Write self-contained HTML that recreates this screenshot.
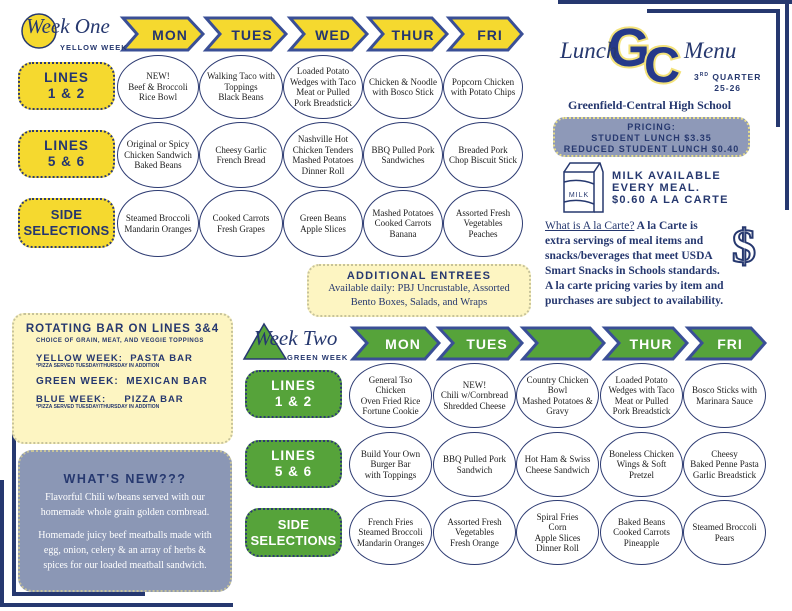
<!DOCTYPE html>
<html><head><meta charset="utf-8"><style>
body{margin:0;background:#fff}
#c{position:relative;width:792px;height:611px;overflow:hidden;background:#fff;font-family:"Liberation Sans",sans-serif}
.a{position:absolute}
.o{position:absolute;box-sizing:border-box;border:1px solid #2d3b72;border-radius:50%;display:flex;align-items:center;justify-content:center;text-align:center;font:9px/10.5px "Liberation Serif",serif;color:#1d1d1d;background:#fff;padding:0 5px}
.p{position:absolute;box-sizing:border-box;border:2px dotted #2d3b72;border-radius:14px;display:flex;align-items:center;justify-content:center;text-align:center;font-weight:bold;font-size:13.5px;line-height:16px;letter-spacing:1px}
.p.sd{font-size:13px;letter-spacing:0.3px}
.y{background:#f5d92f;color:#25366f}
.g{background:#56a33a;color:#fff}
.s{font-family:"Liberation Serif",serif}
</style></head><body><div id="c">
<svg class="a" style="left:0;top:0" width="792" height="611">
<rect x="558" y="0" width="234" height="4" fill="#26386f"/>
<rect x="647" y="9" width="133" height="4" fill="#26386f"/>
<rect x="776" y="9" width="4" height="118" fill="#26386f"/>
<rect x="785" y="0" width="4" height="210" fill="#26386f"/>
<rect x="12" y="398" width="4" height="198" fill="#26386f"/>
<rect x="12" y="592" width="133" height="4" fill="#26386f"/>
<rect x="0" y="480" width="4" height="127" fill="#26386f"/>
<rect x="0" y="603" width="233" height="4" fill="#26386f"/>
<circle cx="39" cy="31" r="17" fill="#f5d92f" stroke="#26386f" stroke-width="1.5"/>
<g fill="#f5d92f" stroke="#3a4f96" stroke-width="3" stroke-linejoin="miter">
<polygon points="123,18 188,18 203,34 188,50 123,50 137,34"/>
<polygon points="206,18 271,18 286,34 271,50 206,50 220,34"/>
<polygon points="290,18 352,18 367,34 352,50 290,50 304,34"/>
<polygon points="369,18 432,18 447,34 432,50 369,50 383,34"/>
<polygon points="449,18 508,18 522,34 508,50 449,50 463,34"/>
</g>
<g font-family="Liberation Sans" font-weight="bold" font-size="14" fill="#25366f" letter-spacing="1" text-anchor="middle">
<text x="170" y="40">MON</text><text x="252" y="40">TUES</text><text x="333" y="40">WED</text><text x="413" y="40">THUR</text><text x="490" y="40">FRI</text>
</g>
<polygon points="244,359 264,324 286,359" fill="#56a33a" stroke="#26386f" stroke-width="1.5"/>
<g fill="#56a33a" stroke="#3a4f96" stroke-width="3">
<polygon points="353,328 425,328 439,343 425,359 353,359 367,343"/>
<polygon points="439,328 508,328 522,343 508,359 439,359 453,343"/>
<polygon points="523,328 590,328 604,343 590,359 523,359 537,343"/>
<polygon points="605,328 673,328 687,343 673,359 605,359 619,343"/>
<polygon points="688,328 751,328 765,343 751,359 688,359 702,343"/>
</g>
<g font-family="Liberation Sans" font-weight="bold" font-size="14" fill="#fff" letter-spacing="1" text-anchor="middle">
<text x="403" y="349">MON</text><text x="487" y="349">TUES</text><text x="651" y="349">THUR</text><text x="730" y="349">FRI</text>
</g>
<g font-family="Liberation Sans" font-weight="bold" fill="#25398a" stroke="#f3e27a" stroke-width="4" paint-order="stroke">
<text x="608" y="66" font-size="54">G</text><text x="644" y="82" font-size="50">C</text>
</g>
<g fill="none" stroke="#26386f" stroke-width="1.5">
<rect x="564" y="172" width="30" height="40"/>
<polyline points="564,172 570,163 600,163 603,172 603,212 594,212"/>
<line x1="594" y1="172" x2="600" y2="163"/>
<path d="M564,182 q15,-4 30,2"/><path d="M564,202 q15,-4 30,2"/>
</g>
<text x="579" y="197" font-size="7" fill="#26386f" text-anchor="middle" letter-spacing="1">MILK</text>
<text x="744" y="262" font-size="48" font-family="Liberation Serif" fill="#fff" stroke="#26386f" stroke-width="2" text-anchor="middle" font-weight="bold">$</text>
</svg>

<div class="a" style="left:26px;top:14px;font:italic 21px 'Liberation Serif',serif;color:#26386f">Week One</div>
<div class="a" style="left:60px;top:43px;font:bold 7.5px 'Liberation Sans';color:#26386f;letter-spacing:1px">YELLOW WEEK</div>

<div class="p y" style="left:18px;top:62px;width:97px;height:48px">LINES<br>1 &amp; 2</div>
<div class="p y" style="left:18px;top:130px;width:97px;height:48px">LINES<br>5 &amp; 6</div>
<div class="p y sd" style="left:18px;top:198px;width:97px;height:50px">SIDE<br>SELECTIONS</div>

<div class="o" style="left:117px;top:55px;width:82px;height:64px">NEW!<br>Beef &amp; Broccoli Rice Bowl</div>
<div class="o" style="left:199px;top:55px;width:84px;height:64px">Walking Taco with Toppings<br>Black Beans</div>
<div class="o" style="left:283px;top:55px;width:80px;height:64px">Loaded Potato Wedges with Taco Meat or Pulled Pork Breadstick</div>
<div class="o" style="left:363px;top:55px;width:80px;height:64px">Chicken &amp; Noodle with Bosco Stick</div>
<div class="o" style="left:443px;top:55px;width:80px;height:64px">Popcorn Chicken with Potato Chips</div>

<div class="o" style="left:117px;top:122px;width:82px;height:66px">Original or Spicy Chicken Sandwich Baked Beans</div>
<div class="o" style="left:199px;top:122px;width:84px;height:66px">Cheesy Garlic<br>French Bread</div>
<div class="o" style="left:283px;top:122px;width:80px;height:66px">Nashville Hot Chicken Tenders Mashed Potatoes Dinner Roll</div>
<div class="o" style="left:363px;top:122px;width:80px;height:66px">BBQ Pulled Pork Sandwiches</div>
<div class="o" style="left:443px;top:122px;width:80px;height:66px">Breaded Pork Chop Biscuit Stick</div>

<div class="o" style="left:117px;top:190px;width:82px;height:67px">Steamed Broccoli Mandarin Oranges</div>
<div class="o" style="left:199px;top:190px;width:84px;height:67px">Cooked Carrots<br>Fresh Grapes</div>
<div class="o" style="left:283px;top:190px;width:80px;height:67px">Green Beans<br>Apple Slices</div>
<div class="o" style="left:363px;top:190px;width:80px;height:67px">Mashed Potatoes Cooked Carrots Banana</div>
<div class="o" style="left:443px;top:190px;width:80px;height:67px">Assorted Fresh Vegetables Peaches</div>

<div class="a" style="left:307px;top:264px;width:224px;height:53px;box-sizing:border-box;background:#fdf5c2;border:2px dotted #c7c39a;border-radius:12px;text-align:center;color:#26386f">
<div style="font:bold 11px 'Liberation Sans';letter-spacing:1.2px;margin-top:4px">ADDITIONAL ENTREES</div>
<div class="s" style="font-size:10.5px;line-height:14px">Available daily: PBJ Uncrustable, Assorted<br>Bento Boxes, Salads, and Wraps</div></div>

<div class="a" style="left:560px;top:38px;font:italic 23px 'Liberation Serif',serif;color:#26386f">Lunch</div>
<div class="a" style="left:684px;top:38px;font:italic 23px 'Liberation Serif',serif;color:#26386f">Menu</div>
<div class="a" style="left:694px;top:70px;font:bold 8.5px 'Liberation Sans';color:#26386f;letter-spacing:1px;text-align:center;line-height:11px">3<sup style="font-size:5px">RD</sup> QUARTER<br>25-26</div>
<div class="a s" style="left:568px;top:98px;font-size:12px;font-weight:bold;color:#26386f">Greenfield-Central High School</div>
<div class="a" style="left:553px;top:117px;width:197px;height:40px;box-sizing:border-box;background:#8e99b8;border:2px dotted #e6dc8a;border-radius:12px;text-align:center;font:bold 9px/11px 'Liberation Sans';color:#26386f;letter-spacing:1px;padding-top:3px">PRICING:<br>STUDENT LUNCH $3.35<br>REDUCED STUDENT LUNCH $0.40</div>
<div class="a" style="left:612px;top:170px;font:bold 11px/12px 'Liberation Sans';color:#26386f;letter-spacing:1.3px">MILK AVAILABLE<br>EVERY MEAL.<br>$0.60 A LA CARTE</div>
<div class="a s" style="left:545px;top:219px;width:190px;font-size:11.5px;line-height:15px;font-weight:bold;color:#26386f;white-space:nowrap"><u style="font-weight:normal">What is A la Carte?</u> A la Carte is<br>extra servings of meal items and<br>snacks/beverages that meet USDA<br>Smart Snacks in Schools standards.<br>A la carte pricing varies by item and<br>purchases are subject to availability.</div>

<div class="a" style="left:12px;top:313px;width:221px;height:131px;box-sizing:border-box;background:#fdf5c2;border:2px dotted #c7c39a;border-radius:12px;color:#26386f;font-family:'Liberation Sans'">
<div style="font:bold 11.5px 'Liberation Sans';letter-spacing:1px;text-align:center;margin-top:8px;white-space:nowrap">ROTATING BAR ON LINES 3&amp;4</div>
<div style="font:bold 6px 'Liberation Sans';letter-spacing:0.5px;margin:3px 0 0 22px">CHOICE OF GRAIN, MEAT, AND VEGGIE TOPPINGS</div>
<div style="font:bold 9.5px/9px 'Liberation Sans';letter-spacing:1px;margin:10px 0 0 22px">YELLOW WEEK: &nbsp;PASTA BAR</div>
<div style="font:bold 5px 'Liberation Sans';margin-left:22px">*PIZZA SERVED TUESDAY/THURSDAY IN ADDITION</div>
<div style="font:bold 10px 'Liberation Sans';letter-spacing:1px;margin:7px 0 0 22px">GREEN WEEK: &nbsp;MEXICAN BAR</div>
<div style="font:bold 9.5px/9px 'Liberation Sans';letter-spacing:1px;margin:8px 0 0 22px">BLUE WEEK: &nbsp;&nbsp;&nbsp;&nbsp;PIZZA BAR</div>
<div style="font:bold 5px 'Liberation Sans';margin-left:22px">*PIZZA SERVED TUESDAY/THURSDAY IN ADDITION</div>
</div>

<div class="a" style="left:18px;top:450px;width:214px;height:142px;box-sizing:border-box;background:#8b97b5;border:2px dotted #c7c39a;border-radius:14px;text-align:center;color:#fff">
<div style="font:bold 12.5px 'Liberation Sans';color:#26386f;letter-spacing:1.5px;margin-top:20px">WHAT'S NEW???</div>
<div class="s" style="font-size:10px;line-height:15px;margin-top:4px">Flavorful Chili w/beans served with our<br>homemade whole grain golden cornbread.</div>
<div class="s" style="font-size:10px;line-height:15px;margin-top:8px">Homemade juicy beef meatballs made with<br>egg, onion, celery &amp; an array of herbs &amp;<br>spices for our loaded meatball sandwich.</div>
</div>

<div class="a" style="left:254px;top:326px;font:italic 21px 'Liberation Serif',serif;color:#26386f">Week Two</div>
<div class="a" style="left:287px;top:353px;font:bold 7.5px 'Liberation Sans';color:#26386f;letter-spacing:1px">GREEN WEEK</div>

<div class="p g" style="left:245px;top:370px;width:97px;height:48px">LINES<br>1 &amp; 2</div>
<div class="p g" style="left:245px;top:440px;width:97px;height:48px">LINES<br>5 &amp; 6</div>
<div class="p g sd" style="left:245px;top:508px;width:97px;height:49px">SIDE<br>SELECTIONS</div>

<div class="o" style="left:349px;top:363px;width:83px;height:65px">General Tso Chicken<br>Oven Fried Rice Fortune Cookie</div>
<div class="o" style="left:433px;top:363px;width:83px;height:65px">NEW!<br>Chili w/Cornbread Shredded Cheese</div>
<div class="o" style="left:516px;top:363px;width:83px;height:65px">Country Chicken Bowl<br>Mashed Potatoes &amp; Gravy</div>
<div class="o" style="left:600px;top:363px;width:83px;height:65px">Loaded Potato Wedges with Taco Meat or Pulled Pork Breadstick</div>
<div class="o" style="left:683px;top:363px;width:83px;height:65px">Bosco Sticks with Marinara Sauce</div>

<div class="o" style="left:349px;top:432px;width:83px;height:65px">Build Your Own Burger Bar<br>with Toppings</div>
<div class="o" style="left:433px;top:432px;width:83px;height:65px">BBQ Pulled Pork Sandwich</div>
<div class="o" style="left:516px;top:432px;width:83px;height:65px">Hot Ham &amp; Swiss Cheese Sandwich</div>
<div class="o" style="left:600px;top:432px;width:83px;height:65px">Boneless Chicken Wings &amp; Soft Pretzel</div>
<div class="o" style="left:683px;top:432px;width:83px;height:65px">Cheesy<br>Baked Penne Pasta Garlic Breadstick</div>

<div class="o" style="left:349px;top:500px;width:83px;height:65px">French Fries Steamed Broccoli Mandarin Oranges</div>
<div class="o" style="left:433px;top:500px;width:83px;height:65px">Assorted Fresh Vegetables<br>Fresh Orange</div>
<div class="o" style="left:516px;top:500px;width:83px;height:65px">Spiral Fries<br>Corn<br>Apple Slices<br>Dinner Roll</div>
<div class="o" style="left:600px;top:500px;width:83px;height:65px">Baked Beans Cooked Carrots Pineapple</div>
<div class="o" style="left:683px;top:500px;width:83px;height:65px">Steamed Broccoli Pears</div>
</div></body></html>
